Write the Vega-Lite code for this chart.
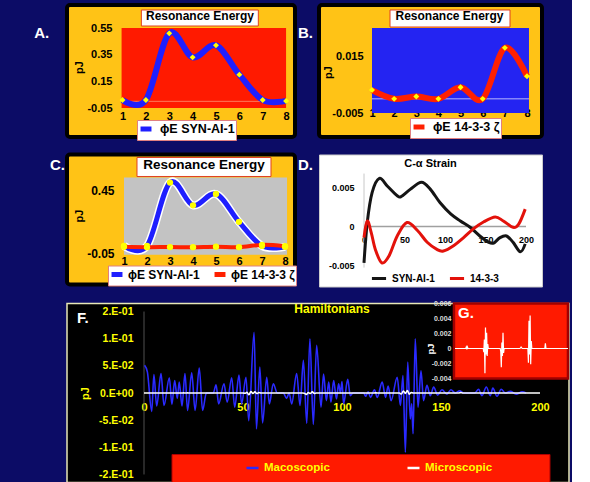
{
  "$schema": "https://vega.github.io/schema/vega-lite/v6.json",
  "background": "#0c0c66",
  "padding": {"left": 32, "top": 3, "right": 0, "bottom": 0},
  "spacing": 10.5,
  "resolve": {"scale": {"color": "independent"}, "legend": {"color": "independent"}},
  "config": {
    "font": "Liberation Sans",
    "locale": {"number": {"decimal": ".", "thousands": ",", "grouping": [3], "currency": ["$", ""], "minus": "-"}},
    "view": {"stroke": null},
    "axis": {"grid": false, "domain": false, "ticks": false, "labelOverlap": false, "labelFontWeight": "bold", "titleFontWeight": "bold", "labelColor": "#000000", "titleColor": "#000000"},
    "title": {"fontWeight": "bold", "color": "#000000"},
    "legend": {"labelFontWeight": "bold", "labelColor": "#000000", "rowPadding": 0}
  },
  "datasets": {
    "res": [
      {"pos": 1, "protein": "SYN-AI-1", "energy": 0.01},
      {"pos": 2, "protein": "SYN-AI-1", "energy": 0.01},
      {"pos": 3, "protein": "SYN-AI-1", "energy": 0.51},
      {"pos": 4, "protein": "SYN-AI-1", "energy": 0.33},
      {"pos": 5, "protein": "SYN-AI-1", "energy": 0.42},
      {"pos": 6, "protein": "SYN-AI-1", "energy": 0.2},
      {"pos": 7, "protein": "SYN-AI-1", "energy": 0.01},
      {"pos": 8, "protein": "SYN-AI-1", "energy": 0.003},
      {"pos": 1, "protein": "14-3-3 ζ", "energy": 0.0031},
      {"pos": 2, "protein": "14-3-3 ζ", "energy": 0.0},
      {"pos": 3, "protein": "14-3-3 ζ", "energy": 0.0008},
      {"pos": 4, "protein": "14-3-3 ζ", "energy": 0.0},
      {"pos": 5, "protein": "14-3-3 ζ", "energy": 0.0041},
      {"pos": 6, "protein": "14-3-3 ζ", "energy": 0.0},
      {"pos": 7, "protein": "14-3-3 ζ", "energy": 0.018},
      {"pos": 8, "protein": "14-3-3 ζ", "energy": 0.008}
    ],
    "strain": [
      {"residue": 0, "protein": "SYN-AI-1", "strain": -0.0046},
      {"residue": 4, "protein": "SYN-AI-1", "strain": 0.0005},
      {"residue": 10, "protein": "SYN-AI-1", "strain": 0.0043},
      {"residue": 19, "protein": "SYN-AI-1", "strain": 0.0061},
      {"residue": 29, "protein": "SYN-AI-1", "strain": 0.0051},
      {"residue": 41, "protein": "SYN-AI-1", "strain": 0.0039},
      {"residue": 46, "protein": "SYN-AI-1", "strain": 0.0038},
      {"residue": 57, "protein": "SYN-AI-1", "strain": 0.0047},
      {"residue": 71, "protein": "SYN-AI-1", "strain": 0.0056},
      {"residue": 82, "protein": "SYN-AI-1", "strain": 0.0047},
      {"residue": 94, "protein": "SYN-AI-1", "strain": 0.003},
      {"residue": 107, "protein": "SYN-AI-1", "strain": 0.0016},
      {"residue": 119, "protein": "SYN-AI-1", "strain": 0.0007},
      {"residue": 131, "protein": "SYN-AI-1", "strain": -0.0001},
      {"residue": 143, "protein": "SYN-AI-1", "strain": -0.0012},
      {"residue": 154, "protein": "SYN-AI-1", "strain": -0.002},
      {"residue": 160, "protein": "SYN-AI-1", "strain": -0.0021},
      {"residue": 168, "protein": "SYN-AI-1", "strain": -0.0014},
      {"residue": 176, "protein": "SYN-AI-1", "strain": -0.0012},
      {"residue": 184, "protein": "SYN-AI-1", "strain": -0.002},
      {"residue": 193, "protein": "SYN-AI-1", "strain": -0.0032},
      {"residue": 199, "protein": "SYN-AI-1", "strain": -0.0022},
      {"residue": 0, "protein": "14-3-3", "strain": -0.0014},
      {"residue": 4, "protein": "14-3-3", "strain": 0.0007},
      {"residue": 9, "protein": "14-3-3", "strain": -0.0008},
      {"residue": 14, "protein": "14-3-3", "strain": -0.0029},
      {"residue": 22, "protein": "14-3-3", "strain": -0.0046},
      {"residue": 31, "protein": "14-3-3", "strain": -0.0037},
      {"residue": 41, "protein": "14-3-3", "strain": -0.0012},
      {"residue": 53, "protein": "14-3-3", "strain": 0.0005},
      {"residue": 66, "protein": "14-3-3", "strain": -0.0005},
      {"residue": 78, "protein": "14-3-3", "strain": -0.002},
      {"residue": 90, "protein": "14-3-3", "strain": -0.0029},
      {"residue": 98, "protein": "14-3-3", "strain": -0.0031},
      {"residue": 111, "protein": "14-3-3", "strain": -0.0024},
      {"residue": 123, "protein": "14-3-3", "strain": -0.0014},
      {"residue": 135, "protein": "14-3-3", "strain": -0.0003},
      {"residue": 148, "protein": "14-3-3", "strain": 0.0006},
      {"residue": 162, "protein": "14-3-3", "strain": 0.0012},
      {"residue": 172, "protein": "14-3-3", "strain": 0.0007},
      {"residue": 184, "protein": "14-3-3", "strain": -0.0001},
      {"residue": 191, "protein": "14-3-3", "strain": 0.0003},
      {"residue": 199, "protein": "14-3-3", "strain": 0.0022}
    ],
    "ham": [
      {"residue": 0.3, "scale": "Macoscopic", "energy": 0.051},
      {"residue": 1.7, "scale": "Macoscopic", "energy": 0.039},
      {"residue": 3.9, "scale": "Macoscopic", "energy": -0.034},
      {"residue": 5.0, "scale": "Macoscopic", "energy": 0.034},
      {"residue": 6.4, "scale": "Macoscopic", "energy": -0.024},
      {"residue": 8.6, "scale": "Macoscopic", "energy": 0.036},
      {"residue": 10.1, "scale": "Macoscopic", "energy": -0.023},
      {"residue": 12.8, "scale": "Macoscopic", "energy": 0.028},
      {"residue": 14.1, "scale": "Macoscopic", "energy": -0.021},
      {"residue": 15.5, "scale": "Macoscopic", "energy": 0.023},
      {"residue": 16.8, "scale": "Macoscopic", "energy": -0.01},
      {"residue": 17.8, "scale": "Macoscopic", "energy": 0.02},
      {"residue": 19.2, "scale": "Macoscopic", "energy": -0.024},
      {"residue": 20.7, "scale": "Macoscopic", "energy": 0.036},
      {"residue": 22.0, "scale": "Macoscopic", "energy": -0.032},
      {"residue": 24.1, "scale": "Macoscopic", "energy": 0.037},
      {"residue": 25.8, "scale": "Macoscopic", "energy": -0.032},
      {"residue": 27.9, "scale": "Macoscopic", "energy": 0.046},
      {"residue": 29.6, "scale": "Macoscopic", "energy": -0.032},
      {"residue": 31.5, "scale": "Macoscopic", "energy": 0.0},
      {"residue": 35.0, "scale": "Macoscopic", "energy": 0.0},
      {"residue": 36.4, "scale": "Macoscopic", "energy": 0.015},
      {"residue": 37.7, "scale": "Macoscopic", "energy": -0.02},
      {"residue": 40.4, "scale": "Macoscopic", "energy": 0.017},
      {"residue": 42.0, "scale": "Macoscopic", "energy": -0.017},
      {"residue": 44.3, "scale": "Macoscopic", "energy": 0.028},
      {"residue": 45.8, "scale": "Macoscopic", "energy": -0.026},
      {"residue": 48.0, "scale": "Macoscopic", "energy": 0.033},
      {"residue": 49.3, "scale": "Macoscopic", "energy": -0.02},
      {"residue": 51.5, "scale": "Macoscopic", "energy": 0.029},
      {"residue": 52.9, "scale": "Macoscopic", "energy": -0.051},
      {"residue": 55.6, "scale": "Macoscopic", "energy": 0.112},
      {"residue": 56.8, "scale": "Macoscopic", "energy": -0.066},
      {"residue": 58.5, "scale": "Macoscopic", "energy": 0.048},
      {"residue": 59.9, "scale": "Macoscopic", "energy": -0.055},
      {"residue": 62.0, "scale": "Macoscopic", "energy": 0.029},
      {"residue": 63.3, "scale": "Macoscopic", "energy": -0.02},
      {"residue": 65.3, "scale": "Macoscopic", "energy": 0.017},
      {"residue": 67.3, "scale": "Macoscopic", "energy": 0.0},
      {"residue": 70.4, "scale": "Macoscopic", "energy": 0.0},
      {"residue": 72.0, "scale": "Macoscopic", "energy": -0.01},
      {"residue": 73.3, "scale": "Macoscopic", "energy": 0.0},
      {"residue": 74.6, "scale": "Macoscopic", "energy": -0.02},
      {"residue": 77.1, "scale": "Macoscopic", "energy": 0.036},
      {"residue": 78.8, "scale": "Macoscopic", "energy": -0.023},
      {"residue": 80.5, "scale": "Macoscopic", "energy": 0.06},
      {"residue": 82.2, "scale": "Macoscopic", "energy": -0.056},
      {"residue": 83.8, "scale": "Macoscopic", "energy": 0.1},
      {"residue": 85.5, "scale": "Macoscopic", "energy": -0.058},
      {"residue": 87.2, "scale": "Macoscopic", "energy": 0.088},
      {"residue": 89.4, "scale": "Macoscopic", "energy": -0.026},
      {"residue": 90.7, "scale": "Macoscopic", "energy": 0.035},
      {"residue": 92.1, "scale": "Macoscopic", "energy": -0.014},
      {"residue": 93.3, "scale": "Macoscopic", "energy": 0.02},
      {"residue": 94.4, "scale": "Macoscopic", "energy": -0.017},
      {"residue": 95.8, "scale": "Macoscopic", "energy": 0.023},
      {"residue": 97.2, "scale": "Macoscopic", "energy": -0.011},
      {"residue": 98.3, "scale": "Macoscopic", "energy": 0.017},
      {"residue": 99.2, "scale": "Macoscopic", "energy": 0.0},
      {"residue": 100.0, "scale": "Macoscopic", "energy": 0.021},
      {"residue": 100.8, "scale": "Macoscopic", "energy": -0.02},
      {"residue": 102.9, "scale": "Macoscopic", "energy": 0.025},
      {"residue": 104.2, "scale": "Macoscopic", "energy": -0.005},
      {"residue": 105.5, "scale": "Macoscopic", "energy": 0.0},
      {"residue": 111.0, "scale": "Macoscopic", "energy": 0.0},
      {"residue": 111.9, "scale": "Macoscopic", "energy": -0.006},
      {"residue": 113.2, "scale": "Macoscopic", "energy": 0.002},
      {"residue": 114.4, "scale": "Macoscopic", "energy": -0.008},
      {"residue": 116.4, "scale": "Macoscopic", "energy": 0.006},
      {"residue": 117.8, "scale": "Macoscopic", "energy": -0.008},
      {"residue": 120.3, "scale": "Macoscopic", "energy": 0.02},
      {"residue": 122.0, "scale": "Macoscopic", "energy": -0.008},
      {"residue": 123.3, "scale": "Macoscopic", "energy": 0.013},
      {"residue": 124.8, "scale": "Macoscopic", "energy": -0.014},
      {"residue": 127.9, "scale": "Macoscopic", "energy": 0.029},
      {"residue": 129.5, "scale": "Macoscopic", "energy": -0.023},
      {"residue": 130.8, "scale": "Macoscopic", "energy": 0.032},
      {"residue": 132.0, "scale": "Macoscopic", "energy": -0.109},
      {"residue": 133.2, "scale": "Macoscopic", "energy": 0.057},
      {"residue": 134.5, "scale": "Macoscopic", "energy": -0.048},
      {"residue": 135.2, "scale": "Macoscopic", "energy": -0.02},
      {"residue": 135.9, "scale": "Macoscopic", "energy": -0.075},
      {"residue": 137.0, "scale": "Macoscopic", "energy": 0.1},
      {"residue": 138.4, "scale": "Macoscopic", "energy": -0.026},
      {"residue": 139.9, "scale": "Macoscopic", "energy": 0.041},
      {"residue": 141.2, "scale": "Macoscopic", "energy": -0.014},
      {"residue": 142.9, "scale": "Macoscopic", "energy": 0.014},
      {"residue": 144.6, "scale": "Macoscopic", "energy": -0.005},
      {"residue": 146.3, "scale": "Macoscopic", "energy": 0.011},
      {"residue": 148.3, "scale": "Macoscopic", "energy": -0.004},
      {"residue": 150.5, "scale": "Macoscopic", "energy": 0.006},
      {"residue": 153.0, "scale": "Macoscopic", "energy": -0.002},
      {"residue": 155.0, "scale": "Macoscopic", "energy": 0.006},
      {"residue": 157.2, "scale": "Macoscopic", "energy": 0.0},
      {"residue": 159.4, "scale": "Macoscopic", "energy": 0.004},
      {"residue": 161.5, "scale": "Macoscopic", "energy": 0.0},
      {"residue": 167.0, "scale": "Macoscopic", "energy": 0.0},
      {"residue": 169.0, "scale": "Macoscopic", "energy": 0.007},
      {"residue": 170.7, "scale": "Macoscopic", "energy": -0.005},
      {"residue": 172.9, "scale": "Macoscopic", "energy": 0.011},
      {"residue": 174.9, "scale": "Macoscopic", "energy": -0.005},
      {"residue": 176.2, "scale": "Macoscopic", "energy": 0.009},
      {"residue": 178.3, "scale": "Macoscopic", "energy": -0.006},
      {"residue": 180.4, "scale": "Macoscopic", "energy": 0.007},
      {"residue": 182.5, "scale": "Macoscopic", "energy": 0.0},
      {"residue": 185.0, "scale": "Macoscopic", "energy": 0.003},
      {"residue": 188.0, "scale": "Macoscopic", "energy": -0.002},
      {"residue": 191.0, "scale": "Macoscopic", "energy": 0.002},
      {"residue": 193.0, "scale": "Macoscopic", "energy": 0.0},
      {"residue": 0, "scale": "Microscopic", "energy": 0.0},
      {"residue": 19, "scale": "Microscopic", "energy": 0.0},
      {"residue": 20, "scale": "Microscopic", "energy": 0.0002},
      {"residue": 21, "scale": "Microscopic", "energy": -0.0001},
      {"residue": 22, "scale": "Microscopic", "energy": 0.0002},
      {"residue": 23, "scale": "Microscopic", "energy": 0.0},
      {"residue": 50, "scale": "Microscopic", "energy": 0.0},
      {"residue": 51, "scale": "Microscopic", "energy": -0.0005},
      {"residue": 52, "scale": "Microscopic", "energy": 0.0012},
      {"residue": 53, "scale": "Microscopic", "energy": -0.0033},
      {"residue": 54, "scale": "Microscopic", "energy": 0.0028},
      {"residue": 55, "scale": "Microscopic", "energy": -0.0008},
      {"residue": 56, "scale": "Microscopic", "energy": 0.0021},
      {"residue": 57, "scale": "Microscopic", "energy": -0.001},
      {"residue": 58, "scale": "Microscopic", "energy": 0.0006},
      {"residue": 59, "scale": "Microscopic", "energy": 0.0},
      {"residue": 80, "scale": "Microscopic", "energy": 0.0},
      {"residue": 81, "scale": "Microscopic", "energy": -0.0004},
      {"residue": 82, "scale": "Microscopic", "energy": -0.0025},
      {"residue": 83, "scale": "Microscopic", "energy": 0.0008},
      {"residue": 84, "scale": "Microscopic", "energy": -0.001},
      {"residue": 85, "scale": "Microscopic", "energy": 0.0021},
      {"residue": 86, "scale": "Microscopic", "energy": -0.0006},
      {"residue": 87, "scale": "Microscopic", "energy": 0.0},
      {"residue": 115, "scale": "Microscopic", "energy": 0.0},
      {"residue": 117, "scale": "Microscopic", "energy": 0.0002},
      {"residue": 119, "scale": "Microscopic", "energy": 0.0},
      {"residue": 129, "scale": "Microscopic", "energy": 0.0},
      {"residue": 130, "scale": "Microscopic", "energy": -0.0019},
      {"residue": 131, "scale": "Microscopic", "energy": 0.0037},
      {"residue": 132, "scale": "Microscopic", "energy": -0.0008},
      {"residue": 133, "scale": "Microscopic", "energy": 0.0044},
      {"residue": 134, "scale": "Microscopic", "energy": -0.0021},
      {"residue": 135, "scale": "Microscopic", "energy": 0.001},
      {"residue": 136, "scale": "Microscopic", "energy": 0.0},
      {"residue": 159, "scale": "Microscopic", "energy": 0.0},
      {"residue": 160, "scale": "Microscopic", "energy": 0.0007},
      {"residue": 161, "scale": "Microscopic", "energy": 0.0},
      {"residue": 200, "scale": "Microscopic", "energy": 0.0}
    ]
  },
  "vconcat": [
    {
      "spacing": 9.5,
      "resolve": {"scale": {"color": "independent"}, "legend": {"color": "independent"}},
      "vconcat": [
        {
          "spacing": 24,
          "bounds": "flush",
          "resolve": {"scale": {"color": "independent"}, "legend": {"color": "independent"}},
          "hconcat": [
            {
              "width": 228, "height": 132,
              "view": {"fill": "#ffc316", "stroke": "#000000", "strokeWidth": 4, "cornerRadius": 3},
              "title": {"text": "Resonance Energy", "offset": -18, "dx": 19, "fontSize": 12, "frame": "group", "anchor": "middle"},
              "layer": [
                {
                  "data": {"values": [{}]},
                  "mark": {"type": "rect", "color": "#ff1a00"},
                  "encoding": {
                    "x": {"datum": 0.96, "type": "quantitative", "scale": {"domain": [-1.376, 8.382], "nice": false, "zero": false},
                      "axis": {"orient": "bottom", "offset": -29, "values": [1, 2, 3, 4, 5, 6, 7, 8], "tickCount": 30, "format": "d", "labelOverlap": false, "labelBaseline": "middle", "labelPadding": 8, "labelFontSize": 11, "title": null}},
                    "x2": {"datum": 8.0},
                    "y": {"datum": 0.55, "type": "quantitative", "scale": {"domain": [-0.2675, 0.7225], "nice": false, "zero": false},
                      "axis": {"orient": "left", "offset": -55, "values": [-0.05, 0.15, 0.35, 0.55], "tickCount": 30, "format": ".2f", "labelOverlap": false, "labelPadding": 10, "labelFontSize": 11, "title": "pJ", "titleFontSize": 11, "titleX": -43, "titleY": 62, "titleAlign": "center", "titleBaseline": "middle", "titleAngle": -90}},
                    "y2": {"datum": -0.05}
                  }
                },
                {
                  "data": {"values": [{}]},
                  "mark": {"type": "rule", "color": "#ff7a5a", "strokeWidth": 1},
                  "encoding": {"x": {"datum": 0.96}, "x2": {"datum": 8.0}, "y": {"datum": 0}}
                },
                {
                  "data": {"values": [{}]},
                  "mark": {"type": "rect", "fill": "#ffffff", "stroke": "#e04020", "strokeWidth": 1},
                  "encoding": {"x": {"datum": 1.806}, "x2": {"datum": 6.812}, "y": {"datum": 0.685}, "y2": {"datum": 0.565}}
                },
                {
                  "data": {"name": "res"},
                  "transform": [{"filter": "datum.protein === 'SYN-AI-1'"}],
                  "mark": {"type": "line", "interpolate": "cardinal", "strokeWidth": 6},
                  "encoding": {
                    "x": {"field": "pos", "type": "quantitative"},
                    "y": {"field": "energy", "type": "quantitative"},
                    "color": {"datum": "SYN-AI-1", "scale": {"domain": ["SYN-AI-1"], "range": ["#1f1fff"]},
                      "legend": {"orient": "none", "legendX": 70, "legendY": 115, "title": null, "fillColor": "#ffffff", "strokeColor": "#e08080", "padding": 1, "symbolType": "stroke", "symbolStrokeWidth": 5, "symbolSize": 120, "labelOffset": 6, "labelFontSize": 12.5, "labelExpr": "'ϕE ' + datum.label"}}
                  }
                },
                {
                  "data": {"name": "res"},
                  "transform": [{"filter": "datum.protein === 'SYN-AI-1'"}],
                  "mark": {"type": "point", "shape": "diamond", "filled": true, "color": "#ffff00", "size": 35, "opacity": 1},
                  "encoding": {"x": {"field": "pos", "type": "quantitative"}, "y": {"field": "energy", "type": "quantitative"}}
                },
                {
                  "data": {"values": [{}]},
                  "mark": {"type": "text", "text": "A.", "align": "left", "baseline": "alphabetic", "fontSize": 15, "fontWeight": "bold", "color": "#ffffff"},
                  "encoding": {"x": {"datum": -2.776}, "y": {"datum": 0.475}}
                }
              ]
            },
            {
              "width": 223, "height": 132,
              "view": {"fill": "#ffc316", "stroke": "#000000", "strokeWidth": 4, "cornerRadius": 3},
              "title": {"text": "Resonance Energy", "offset": -18, "dx": 19, "fontSize": 12, "frame": "group", "anchor": "middle"},
              "layer": [
                {
                  "data": {"values": [{}]},
                  "mark": {"type": "rect", "color": "#2424f2"},
                  "encoding": {
                    "x": {"datum": 1.0, "type": "quantitative", "scale": {"domain": [-1.394, 8.678], "nice": false, "zero": false},
                      "axis": {"orient": "bottom", "offset": -24, "values": [1, 2, 3, 4, 5, 6, 7, 8], "tickCount": 30, "format": "d", "labelOverlap": false, "labelBaseline": "middle", "labelPadding": 0, "labelFontSize": 11, "title": null}},
                    "x2": {"datum": 8.09},
                    "y": {"datum": 0.025, "type": "quantitative", "scale": {"domain": [-0.01347, 0.03312], "nice": false, "zero": false},
                      "axis": {"orient": "left", "offset": -54, "values": [-0.005, 0.015], "tickCount": 30, "format": ".3f", "labelOverlap": false, "labelPadding": 10, "labelFontSize": 11, "title": "pJ", "titleFontSize": 11, "titleX": -45, "titleY": 67, "titleAlign": "center", "titleBaseline": "middle", "titleAngle": -90}},
                    "y2": {"datum": -0.005}
                  }
                },
                {
                  "data": {"values": [{}]},
                  "mark": {"type": "rule", "color": "#b8b8ff", "strokeWidth": 1},
                  "encoding": {"x": {"datum": 1.0}, "x2": {"datum": 8.09}, "y": {"datum": 0}}
                },
                {
                  "data": {"values": [{}]},
                  "mark": {"type": "rect", "fill": "#ffffff", "stroke": "#e04020", "strokeWidth": 1},
                  "encoding": {"x": {"datum": 1.813}, "x2": {"datum": 7.233}, "y": {"datum": 0.03136}, "y2": {"datum": 0.02535}}
                },
                {
                  "data": {"name": "res"},
                  "transform": [{"filter": "datum.protein !== 'SYN-AI-1'"}],
                  "mark": {"type": "line", "interpolate": "cardinal", "strokeWidth": 6},
                  "encoding": {
                    "x": {"field": "pos", "type": "quantitative"},
                    "y": {"field": "energy", "type": "quantitative"},
                    "color": {"datum": "14-3-3 ζ", "scale": {"domain": ["14-3-3 ζ"], "range": ["#ff2000"]},
                      "legend": {"orient": "none", "legendX": 91, "legendY": 113, "title": null, "fillColor": "#ffffff", "strokeColor": "#e08080", "padding": 1, "symbolType": "stroke", "symbolStrokeWidth": 5, "symbolSize": 120, "labelOffset": 6, "labelFontSize": 12.5, "labelExpr": "'ϕE ' + datum.label"}}
                  }
                },
                {
                  "data": {"name": "res"},
                  "transform": [{"filter": "datum.protein !== 'SYN-AI-1'"}],
                  "mark": {"type": "point", "shape": "diamond", "filled": true, "color": "#ffff00", "size": 35, "opacity": 1},
                  "encoding": {"x": {"field": "pos", "type": "quantitative"}, "y": {"field": "energy", "type": "quantitative"}}
                },
                {
                  "data": {"values": [{}]},
                  "mark": {"type": "text", "text": "B.", "align": "left", "baseline": "alphabetic", "fontSize": 15, "fontWeight": "bold", "color": "#ffffff"},
                  "encoding": {"x": {"datum": -2.342}, "y": {"datum": 0.02147}}
                }
              ]
            }
          ]
        },
        {
          "spacing": 24,
          "bounds": "flush",
          "resolve": {"scale": {"color": "independent"}, "legend": {"color": "independent"}},
          "hconcat": [
            {
              "width": 228, "height": 130,
              "view": {"fill": "#ffc316", "stroke": "#000000", "strokeWidth": 4, "cornerRadius": 3},
              "title": {"text": "Resonance Energy", "offset": -17, "dx": 23, "fontSize": 13.5, "frame": "group", "anchor": "middle"},
              "layer": [
                {
                  "data": {"values": [{}]},
                  "mark": {"type": "rect", "color": "#c3c3c3"},
                  "encoding": {
                    "x": {"datum": 1.0, "type": "quantitative", "scale": {"domain": [-1.478, 8.435], "nice": false, "zero": false},
                      "axis": {"orient": "bottom", "offset": -31, "values": [1, 2, 3, 4, 5, 6, 7, 8], "tickCount": 30, "format": "d", "labelOverlap": false, "labelBaseline": "middle", "labelPadding": 8, "labelFontSize": 11, "title": null}},
                    "x2": {"datum": 8.09},
                    "y": {"datum": 0.55, "type": "quantitative", "scale": {"domain": [-0.2947, 0.7316], "nice": false, "zero": false},
                      "axis": {"orient": "left", "offset": -57, "values": [-0.05, 0.45], "tickCount": 30, "format": ".2f", "labelOverlap": false, "labelPadding": 10, "labelFontSize": 12, "title": "pJ", "titleFontSize": 11, "titleX": -45, "titleY": 61, "titleAlign": "center", "titleBaseline": "middle", "titleAngle": -90}},
                    "y2": {"datum": -0.06}
                  }
                },
                {
                  "data": {"values": [{}]},
                  "mark": {"type": "rect", "fill": "#ffffff", "stroke": "#e04020", "strokeWidth": 1},
                  "encoding": {"x": {"datum": 1.565}, "x2": {"datum": 7.391}, "y": {"datum": 0.708}, "y2": {"datum": 0.558}}
                },
                {
                  "data": {"name": "res"},
                  "transform": [{"filter": "datum.protein === 'SYN-AI-1'"}],
                  "mark": {"type": "line", "interpolate": "cardinal", "strokeWidth": 8, "color": "#ffffff"},
                  "encoding": {"x": {"field": "pos", "type": "quantitative"}, "y": {"field": "energy", "type": "quantitative"}}
                },
                {
                  "data": {"name": "res"},
                  "transform": [{"filter": "datum.protein === 'SYN-AI-1'"}],
                  "mark": {"type": "line", "interpolate": "cardinal", "strokeWidth": 5},
                  "encoding": {
                    "x": {"field": "pos", "type": "quantitative"},
                    "y": {"field": "energy", "type": "quantitative"},
                    "color": {"datum": "SYN-AI-1", "scale": {"domain": ["SYN-AI-1", "14-3-3 ζ"], "range": ["#1f1fff", "#ff2000"]},
                      "legend": {"orient": "none", "legendX": 41, "legendY": 111, "direction": "horizontal", "title": null, "fillColor": "#ffffff", "strokeColor": "#e08080", "padding": 1, "columnPadding": 4, "symbolType": "stroke", "symbolStrokeWidth": 5, "symbolSize": 120, "labelOffset": 3, "labelFontSize": 12, "labelExpr": "'ϕE ' + datum.label"}}
                  }
                },
                {
                  "data": {"name": "res"},
                  "transform": [{"filter": "datum.protein === 'SYN-AI-1'"}],
                  "mark": {"type": "point", "shape": "circle", "filled": true, "color": "#ffff00", "size": 40, "opacity": 1},
                  "encoding": {"x": {"field": "pos", "type": "quantitative"}, "y": {"field": "energy", "type": "quantitative"}}
                },
                {
                  "data": {"name": "res"},
                  "transform": [{"filter": "datum.protein !== 'SYN-AI-1'"}],
                  "mark": {"type": "line", "interpolate": "cardinal", "strokeWidth": 4},
                  "encoding": {
                    "x": {"field": "pos", "type": "quantitative"},
                    "y": {"field": "energy", "type": "quantitative"},
                    "color": {"datum": "14-3-3 ζ"}
                  }
                },
                {
                  "data": {"name": "res"},
                  "transform": [{"filter": "datum.protein !== 'SYN-AI-1'"}],
                  "mark": {"type": "point", "shape": "circle", "filled": true, "color": "#ffff00", "size": 40, "opacity": 1},
                  "encoding": {"x": {"field": "pos", "type": "quantitative"}, "y": {"field": "energy", "type": "quantitative"}}
                },
                {
                  "data": {"values": [{}]},
                  "mark": {"type": "text", "text": "C.", "align": "left", "baseline": "alphabetic", "fontSize": 15, "fontWeight": "bold", "color": "#ffffff"},
                  "encoding": {"x": {"datum": -2.217}, "y": {"datum": 0.613}}
                }
              ]
            },
            {
              "width": 223, "height": 132,
              "view": {"fill": "#ffffff", "stroke": "#cccccc", "strokeWidth": 1},
              "title": {"text": "C-α Strain", "offset": -14, "fontSize": 11, "frame": "group", "anchor": "middle"},
              "layer": [
                {
                  "data": {"values": [{}]},
                  "mark": {"type": "rule", "color": "#a0a0a0", "strokeWidth": 1.5},
                  "encoding": {
                    "x": {"datum": 0, "type": "quantitative", "scale": {"domain": [-55.56, 219.75], "nice": false, "zero": false},
                      "axis": {"orient": "bottom", "offset": -60, "values": [0, 50, 100, 150, 200], "tickCount": 30, "format": "d", "labelOverlap": false, "labelBaseline": "middle", "labelPadding": 13, "labelFontSize": 9, "title": null}},
                    "x2": {"datum": 200},
                    "y": {"datum": 0, "type": "quantitative", "scale": {"domain": [-0.007595, 0.009114], "nice": false, "zero": false},
                      "axis": {"orient": "left", "offset": -45, "values": [-0.005, 0, 0.005], "tickCount": 30, "format": ".3~f", "labelOverlap": false, "labelPadding": 10, "labelFontSize": 9, "title": null}}
                  }
                },
                {
                  "data": {"values": [{}]},
                  "mark": {"type": "rule", "color": "#c8c8c8", "strokeWidth": 1},
                  "encoding": {"x": {"datum": 0}, "y": {"datum": -0.0052}, "y2": {"datum": 0.0067}}
                },
                {
                  "data": {"name": "strain"},
                  "mark": {"type": "line", "interpolate": "cardinal", "strokeWidth": 3},
                  "encoding": {
                    "x": {"field": "residue", "type": "quantitative"},
                    "y": {"field": "strain", "type": "quantitative"},
                    "color": {"field": "protein", "type": "nominal", "scale": {"domain": ["SYN-AI-1", "14-3-3"], "range": ["#151515", "#e3120b"]},
                      "legend": {"orient": "none", "legendX": 51, "legendY": 115, "direction": "horizontal", "title": null, "padding": 0, "columnPadding": 8, "symbolType": "stroke", "symbolStrokeWidth": 3, "symbolSize": 200, "labelFontSize": 10}}
                  }
                },
                {
                  "data": {"values": [{}]},
                  "mark": {"type": "text", "text": "D.", "align": "left", "baseline": "alphabetic", "fontSize": 15, "fontWeight": "bold", "color": "#ffffff"},
                  "encoding": {"x": {"datum": -81.5}, "y": {"datum": 0.007215}}
                }
              ]
            }
          ]
        }
      ]
    },
    {
      "width": 502, "height": 179,
      "view": {"fill": "#000000", "stroke": "#e8e8b8", "strokeWidth": 1.5},
      "title": {"text": "Hamiltonians", "color": "#ffff00", "fontSize": 12, "offset": -16, "dx": 14, "frame": "group", "anchor": "middle"},
      "resolve": {"scale": {"x": "independent", "y": "independent"}},
      "layer": [
        {
          "layer": [
            {
              "data": {"values": [{}]},
              "mark": {"type": "rect", "fill": "#ff1a00", "stroke": "#b00000", "strokeWidth": 1},
              "encoding": {
                "x": {"datum": 14.14, "type": "quantitative", "scale": {"domain": [-38.89, 214.65], "nice": false, "zero": false},
                  "axis": {"orient": "bottom", "offset": -89.5, "values": [0, 50, 100, 150, 200], "tickCount": 30, "format": "d", "labelOverlap": false, "labelBaseline": "middle", "labelPadding": 14.5, "labelFontSize": 11, "labelColor": "#ffff00", "title": null}},
                "x2": {"datum": 205.05},
                "y": {"datum": -0.1133, "type": "quantitative", "scale": {"domain": [-0.1648, 0.1648], "nice": false, "zero": false},
                  "axis": {"orient": "left", "offset": -77, "values": [-0.15, -0.1, -0.05, 0, 0.05, 0.1, 0.15], "tickCount": 30, "labelOverlap": false, "labelExpr": "datum.value > 0.12 ? '2.E-01' : datum.value > 0.07 ? '1.E-01' : datum.value > 0.02 ? '5.E-02' : datum.value > -0.02 ? '0.E+00' : datum.value > -0.07 ? '-5.E-02' : datum.value > -0.12 ? '-1.E-01' : '-2.E-01'", "labelPadding": 11, "labelFontSize": 10.5, "labelColor": "#ffff00", "title": "pJ", "titleColor": "#ffff00", "titleFontSize": 11, "titleX": -58.5, "titleY": 89.5, "titleAlign": "center", "titleBaseline": "middle", "titleAngle": -90}},
                "y2": {"datum": -0.1648}
              }
            },
            {
              "data": {"values": [{}]},
              "mark": {"type": "rule", "color": "#505050", "strokeWidth": 1},
              "encoding": {"x": {"datum": 0}, "y": {"datum": -0.15}, "y2": {"datum": 0.15}}
            },
            {
              "data": {"name": "ham"},
              "mark": {"type": "line", "interpolate": "monotone", "strokeWidth": 1.6},
              "encoding": {
                "x": {"field": "residue", "type": "quantitative"},
                "y": {"field": "energy", "type": "quantitative"},
                "color": {"field": "scale", "type": "nominal", "scale": {"domain": ["Macoscopic", "Microscopic"], "range": ["#2a2aff", "#ffffff"]},
                  "legend": {"orient": "none", "legendX": 178, "legendY": 157, "direction": "horizontal", "title": null, "padding": 0, "columnPadding": 72, "symbolType": "stroke", "symbolStrokeWidth": 2.5, "symbolSize": 144, "labelFontSize": 11.5, "labelColor": "#ffff00"}}
              }
            },
            {
              "data": {"values": [{}]},
              "mark": {"type": "text", "text": "F.", "align": "left", "baseline": "alphabetic", "fontSize": 15, "fontWeight": "bold", "color": "#ffffff"},
              "encoding": {"x": {"datum": -33.84}, "y": {"datum": 0.128}}
            }
          ]
        },
        {
          "layer": [
            {
              "data": {"values": [{}]},
              "mark": {"type": "rect", "fill": "#ff1a00", "stroke": "#a00000", "strokeWidth": 2.5},
              "encoding": {
                "x": {"datum": -1.8, "type": "quantitative", "scale": {"domain": [-686.7, 201.8], "nice": false, "zero": false}, "axis": null},
                "x2": {"datum": 200},
                "y": {"datum": 0.006, "type": "quantitative", "scale": {"domain": [-0.01787, 0.006], "nice": false, "zero": false},
                  "axis": {"orient": "left", "offset": -387, "values": [-0.004, -0.002, 0, 0.002, 0.004, 0.006], "tickCount": 30, "format": ".3~f", "labelOverlap": false, "labelPadding": 3, "labelFontSize": 7, "labelColor": "#dddddd", "title": "pJ", "titleColor": "#ffffff", "titleFontSize": 9, "titleX": -24, "titleY": 45, "titleAlign": "center", "titleBaseline": "middle", "titleAngle": -90}},
                "y2": {"datum": -0.004}
              }
            },
            {
              "data": {"name": "ham"},
              "transform": [{"filter": "datum.scale === 'Microscopic'"}],
              "mark": {"type": "line", "color": "#ffffff", "strokeWidth": 1.2},
              "encoding": {"x": {"field": "residue", "type": "quantitative"}, "y": {"field": "energy", "type": "quantitative"}}
            },
            {
              "data": {"values": [{}]},
              "mark": {"type": "text", "text": "G.", "align": "left", "baseline": "alphabetic", "fontSize": 15, "fontWeight": "bold", "color": "#ffffff"},
              "encoding": {"x": {"datum": 5.3}, "y": {"datum": 0.004}}
            }
          ]
        }
      ]
    }
  ]
}
